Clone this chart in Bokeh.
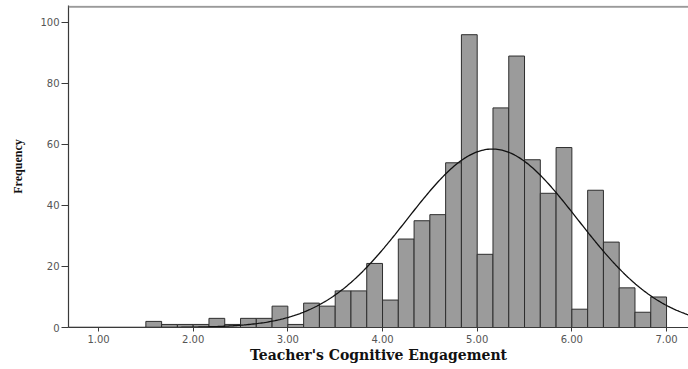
import numpy as np
from bokeh.plotting import figure
from bokeh.models import FixedTicker, NumeralTickFormatter, Span, ColumnDataSource, Range1d
from bokeh.embed import file_html
from bokeh.resources import INLINE

# ---- data ----
bin_start = 1.5
bin_width = 1.0 / 6.0
counts = [2, 1, 1, 1, 3, 1, 3, 3, 7, 1,
          8, 7, 12, 12, 21, 9, 29, 35, 37, 54,
          96, 24, 72, 89, 55, 44, 59, 6, 45, 28,
          13, 5, 10]
x_ticks = [1, 2, 3, 4, 5, 6, 7]
y_ticks = [0, 20, 40, 60, 80, 100]
# fitted normal curve parameters (estimated)
fit_mean = 5.16
fit_sd = 0.90
n_total = 792

x_label = "Teacher's Cognitive Engagement"
y_label = "Frequency"

# ---- build sources ----
lefts = [bin_start + i * bin_width for i in range(len(counts))]
rights = [l + bin_width for l in lefts]
bars = ColumnDataSource(dict(left=lefts, right=rights, top=counts, bottom=[0] * len(counts)))

x_lo, x_hi = 0.683, 7.232
xs = np.linspace(x_lo, x_hi, 400)
ys = n_total * bin_width / (fit_sd * np.sqrt(2 * np.pi)) * np.exp(-0.5 * ((xs - fit_mean) / fit_sd) ** 2)
curve = ColumnDataSource(dict(x=xs, y=ys))

p = figure(width=688, height=369, output_backend="svg", toolbar_location=None,
           x_range=Range1d(x_lo, x_hi), y_range=Range1d(0, 105.57),
           min_border_left=68, min_border_right=0, min_border_top=5, min_border_bottom=42)
p.outline_line_color = None
p.background_fill_color = "white"
p.border_fill_color = "white"
p.xgrid.visible = False
p.ygrid.visible = False

p.quad(left="left", right="right", top="top", bottom="bottom", source=bars,
       fill_color="#9b9b9b", line_color="#2e2e2e", line_width=1)
p.line("x", "y", source=curve, line_color="#111111", line_width=1.3)

p.add_layout(Span(location=105.2, dimension="width", line_color="#9a9a9a", line_width=2))

for ax in (p.xaxis[0], p.yaxis[0]):
    ax.axis_line_color = "#3a3a3a"
    ax.axis_line_width = 1.2
    ax.major_tick_line_color = "#3a3a3a"
    ax.minor_tick_line_color = None
    ax.major_tick_in = 0
    ax.major_label_text_font = "DejaVu Sans"
    ax.major_label_text_font_size = "10px"
    ax.major_label_text_color = "#555555"
    ax.axis_label_text_font_style = "bold"
    ax.axis_label_text_color = "#111111"

p.xaxis[0].ticker = FixedTicker(ticks=x_ticks)
p.xaxis[0].formatter = NumeralTickFormatter(format="0.00")
p.xaxis[0].major_tick_out = 4
p.xaxis[0].major_label_standoff = 3
p.xaxis[0].axis_label = x_label
p.xaxis[0].axis_label_text_font = "DejaVu Serif"
p.xaxis[0].axis_label_text_font_size = "14px"
p.xaxis[0].axis_label_standoff = 1

p.yaxis[0].ticker = FixedTicker(ticks=y_ticks)
p.yaxis[0].major_tick_out = 7
p.yaxis[0].major_label_standoff = 2
p.yaxis[0].axis_label = y_label
p.yaxis[0].axis_label_text_font = "Liberation Serif"
p.yaxis[0].axis_label_text_font_size = "12px"
p.yaxis[0].axis_label_standoff = 12

open("out.html", "w").write(file_html(p, INLINE))
